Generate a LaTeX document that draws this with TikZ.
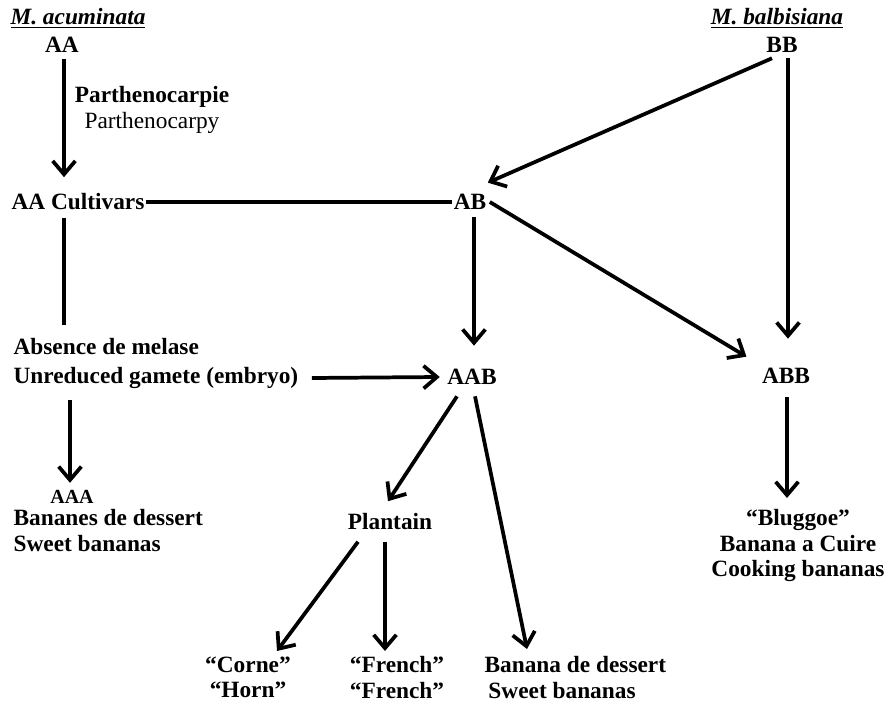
\documentclass[tikz,border=0pt]{standalone}
\usepackage{fontspec}
\setmainfont{Liberation Serif}
\usetikzlibrary{arrows.meta,calc}

\begin{document}
\begin{tikzpicture}[x=0.75pt,y=-0.75pt,
  txt/.style={font=\fontsize{17.5}{19}\selectfont\bfseries, inner sep=1pt},
  link/.style={line width=2.8pt},
  arr/.style={line width=2.8pt, -{Straight Barb[length=10pt,width=17pt,line width=2.8pt]}}]
\useasboundingbox (0,0) rectangle (893,712);
% Parents
\node [txt] (macu) at (78,18) {\underline{\textit{M. acuminata}}};
\node [txt] (aa) at (62,45) {AA};
\node [txt] (mbal) at (777,18) {\underline{\textit{M. balbisiana}}};
\node [txt] (bb) at (782,45) {BB};
%
\node [txt, align=center] (parth) at (152,110) {Parthenocarpie\\ \mdseries Parthenocarpy};
\node [txt] (aacult) at (78,202) {AA Cultivars};
\node [txt] (ab) at (470,202) {AB};
%
\node [txt, anchor=west] (melase) at (12,347) {Absence de melase};
\node [txt, anchor=west] (gamete) at (12,378) {Unreduced gamete (embryo)};
\node [txt] (aab) at (472,377) {AAB};
\node [txt] (abb) at (786,376) {ABB};
%
\node [txt, font=\fontsize{15}{17}\selectfont\bfseries] (aaa) at (72,497) {AAA};
\node [txt, anchor=north west, align=left] (bdess) at (12,508) {Bananes de dessert\\ Sweet bananas};
\node [txt] (plantain) at (390,522) {Plantain};
\node [txt, anchor=north, align=center] (bluggoe) at (798,508) {``Bluggoe''\\ Banana a Cuire\\ Cooking bananas};
%
\node [txt, anchor=north, align=center] (corne) at (248,655) {``Corne''\\ ``Horn''};
\node [txt, anchor=north, align=center] (french) at (397,655) {``French''\\ ``French''};
\node [txt, anchor=north west, align=left] (bdessert) at (483,655) {Banana de dessert\\ \,Sweet bananas};
%
% Connectors
\draw [arr] ($(aa.south)+(2,5)$) -- ($(aa.south |- aacult.north)+(2,-15)$);
\draw [link] (aacult.east) -- (ab.west);
\draw [link] ($(aa |- aacult.south)+(2,6)$) -- ($(aa |- melase.north)+(2,-12)$);
\draw [arr] ($(gamete.east)+(12,0)$) -- ($(aab.west)+(-6,0)$);
\draw [arr] ($(aaa |- gamete.south)+(-2,10)$) -- ($(aaa.north)+(-2,-6)$);
%
\draw [arr] ($(bb.south)+(-10,4)$) -- ($(ab.north east)+(0,-10)$);
\draw [arr] ($(bb.south)+(6,4)$) -- ($(abb.north)+(2,-28)$);
\draw [arr] ($(ab.south)+(4,6)$) -- ($(ab.south |- aab.north)+(4,-22)$);
\draw [arr] ($(ab.east)+(2,0)$) -- ($(abb.north west)+(-14,-10)$);
\draw [arr] ($(abb.south)+(1,12)$) -- ($(abb.south |- bluggoe.north)+(1,-10)$);
%
\draw [arr] ($(aab.south)+(-15,10)$) -- ($(plantain.north)+(-2,-11)$);
\draw [arr] ($(aab.south)+(3,10)$) -- ($(bdessert.north west)+(44,-6)$);
\draw [arr] ($(plantain.south)+(-32,10)$) -- ($(corne.north)+(29,-4)$);
\draw [arr] ($(plantain.south)+(-5,10)$) -- ($(plantain.south |- french.north)+(-5,-4)$);
%
\end{tikzpicture}
\end{document}
